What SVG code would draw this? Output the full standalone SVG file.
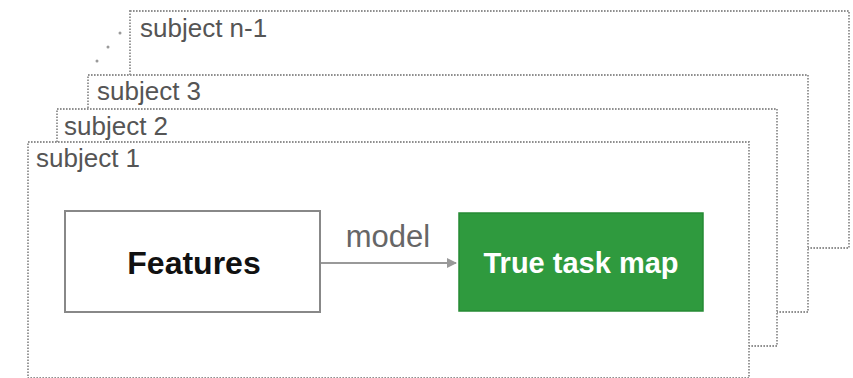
<svg xmlns="http://www.w3.org/2000/svg" width="853" height="378" viewBox="0 0 853 378">
  <defs>
    <style>
      .frame { fill: #ffffff; stroke: #8f8f8f; stroke-width: 1.8; stroke-dasharray: 1.6 1.4; }
      .lbl { font-family: "Liberation Sans", Arial, sans-serif; font-size: 26px; fill: #555555; }
      .dot { fill: #9a9a9a; }
    </style>
    <marker id="arr" markerWidth="10" markerHeight="10" refX="9" refY="5" orient="auto" markerUnits="userSpaceOnUse">
      <path d="M0,0 L10,5 L0,10 Z" fill="#999999"/>
    </marker>
  </defs>
  <rect width="853" height="378" fill="#ffffff"/>

  <g id="subject-n-1">
    <rect class="frame" x="130" y="11" width="719" height="237"/>
    <text class="lbl" x="140" y="37">subject n-1</text>
  </g>
  <g id="ellipsis">
    <circle class="dot" cx="120" cy="33" r="1.5"/>
    <circle class="dot" cx="108" cy="47" r="1.5"/>
    <circle class="dot" cx="97" cy="61" r="1.5"/>
  </g>
  <g id="subject-3">
    <rect class="frame" x="88" y="75" width="720" height="237"/>
    <text class="lbl" x="97" y="100">subject 3</text>
  </g>
  <g id="subject-2">
    <rect class="frame" x="57" y="109" width="720" height="237"/>
    <text class="lbl" x="64" y="135">subject 2</text>
  </g>
  <g id="subject-1">
    <rect class="frame" x="28" y="142" width="721" height="236"/>
    <text class="lbl" x="36" y="167">subject 1</text>
  </g>

  <g id="features">
    <rect x="65" y="211" width="255" height="101" fill="#ffffff" stroke="#888888" stroke-width="2"/>
    <text x="194" y="274" text-anchor="middle" font-family="Liberation Sans, Arial, sans-serif" font-weight="bold" font-size="32" fill="#111111">Features</text>
  </g>

  <g id="true-task-map">
    <rect x="459" y="213" width="244" height="98" fill="#2f9a3e" stroke="#268a35" stroke-width="1.5"/>
    <text x="581" y="273" text-anchor="middle" font-family="Liberation Sans, Arial, sans-serif" font-weight="bold" font-size="29" fill="#ffffff">True task map</text>
  </g>

  <g id="connectors">
    <line x1="321" y1="263" x2="456" y2="263" stroke="#999999" stroke-width="2" marker-end="url(#arr)"/>
    <text x="388" y="247" text-anchor="middle" font-family="Liberation Sans, Arial, sans-serif" font-size="31" fill="#666666">model</text>
  </g>
</svg>
